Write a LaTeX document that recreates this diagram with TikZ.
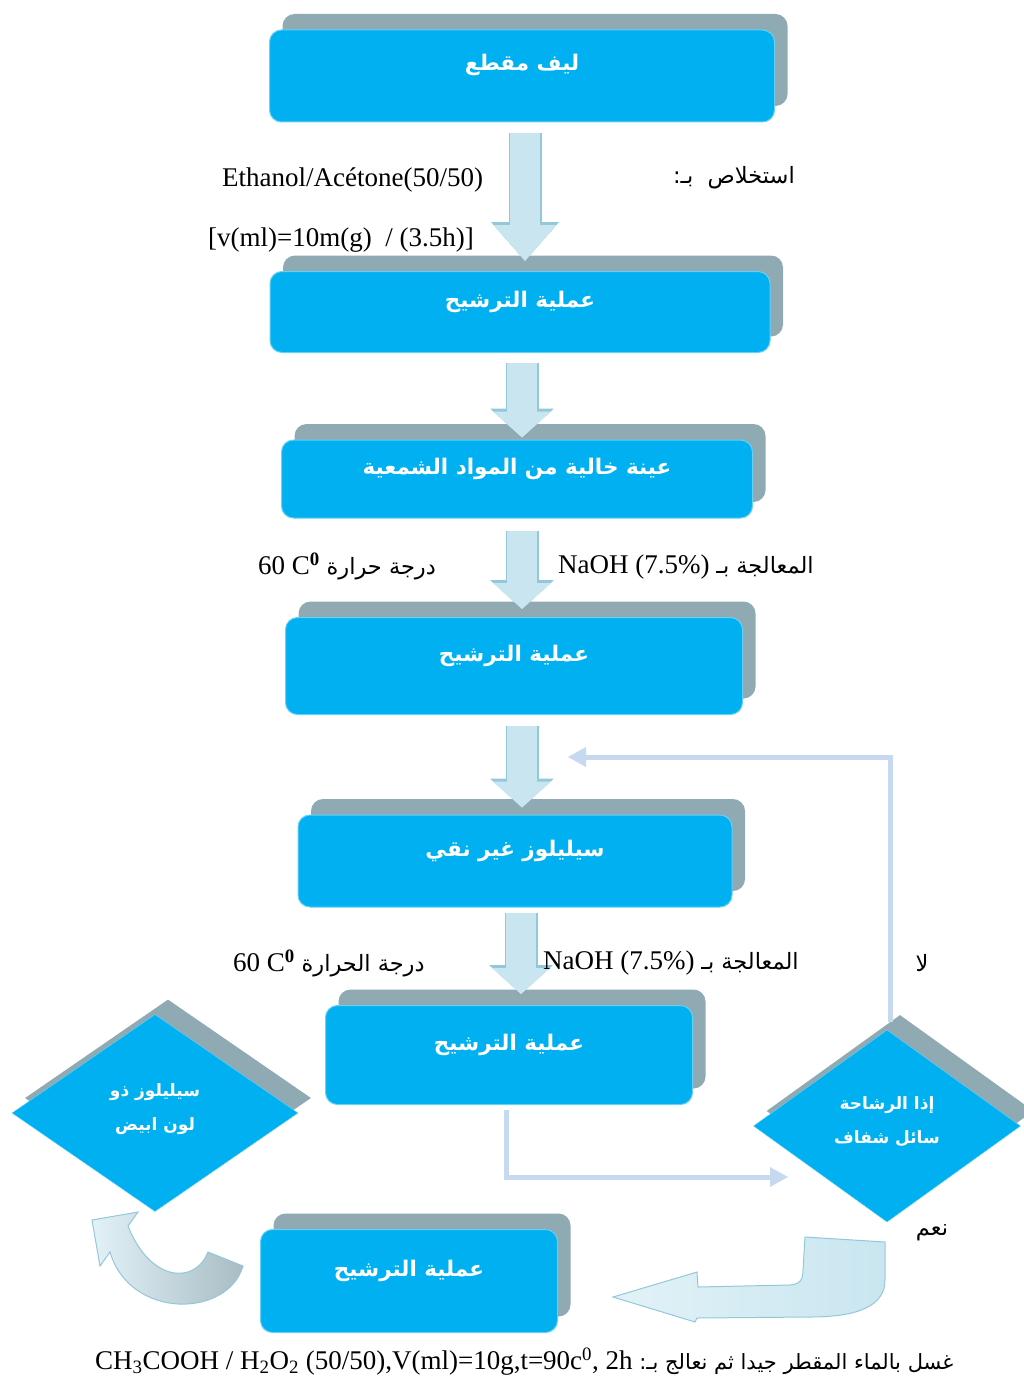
\documentclass[tikz,border=0pt]{standalone}
\usepackage{fontspec}
\setmainfont{Liberation Serif}
\newfontfamily\arabicfont[Script=Arabic]{DejaVu Sans}
\TeXXeTstate=1
\usetikzlibrary{arrows.meta,shapes.geometric,shadows}
\definecolor{boxblue}{HTML}{00B0F0}
\definecolor{boxshade}{HTML}{8FAAB2}
\definecolor{loopblue}{HTML}{C6D9F1}
\definecolor{arrowfill}{HTML}{C9E6F0}
\definecolor{arrowedge}{HTML}{93C8DA}
\definecolor{arrowlight}{HTML}{E2F2F7}
\definecolor{arrowgray}{HTML}{A9BCC4}
\newcommand\arsize{\arabicfont\fontsize{22.5}{26}\selectfont}

\begin{document}
\begin{tikzpicture}[x=1pt,y=-1pt,
  stepbox/.style={rectangle,rounded corners=12pt,fill=boxblue,draw=boxblue!60!white,line width=1pt,
    text=white,font=\arabicfont\bfseries\fontsize{21.5}{26}\selectfont,text height=22pt,text depth=32pt,
    drop shadow={shadow xshift=13pt,shadow yshift=16pt,fill=boxshade,opacity=1}},
  choice/.style={diamond,fill=boxblue,draw=boxblue!60!white,inner sep=0pt,text=white,align=center,
    font=\arabicfont\bfseries\fontsize{17}{34}\selectfont,text depth=12pt,
    drop shadow={shadow xshift=13pt,shadow yshift=15pt,fill=boxshade,opacity=1}},
  flowarrow/.style={line width=30pt,draw=arrowfill,-{Triangle[width=58pt,length=26pt,line width=0pt]},
    preaction={draw=arrowedge,line width=33pt,-{Triangle[width=64pt,length=29pt,line width=0pt]}}},
  bigflow/.style={line width=30pt,draw=arrowfill,-{Triangle[width=62pt,length=36pt,line width=0pt]},
    preaction={draw=arrowedge,line width=33pt,-{Triangle[width=68pt,length=39pt,line width=0pt]}}},
  loopline/.style={draw=loopblue,line width=5pt,-{Triangle[width=20pt,length=18pt,line width=0pt]}},
  latin/.style={font=\fontsize{27}{30}\selectfont,inner sep=0pt},
  arab/.style={font=\arsize,inner sep=0pt}]

  \useasboundingbox (0,0) rectangle (1023,1378);

  \node[stepbox,minimum width=505pt,minimum height=92pt] (1) at (522,76) {\beginR ليف مقطع\endR};
  \node[stepbox,minimum width=500pt,minimum height=81pt] (2) at (520,312) {\beginR عملية الترشيح\endR};
  \node[stepbox,minimum width=471pt,minimum height=78pt] (3) at (517,479) {\beginR عينة خالية من المواد الشمعية\endR};
  \node[stepbox,minimum width=457pt,minimum height=97pt] (4) at (514,666) {\beginR عملية الترشيح\endR};
  \node[stepbox,minimum width=434pt,minimum height=92pt] (5) at (515,861) {\beginR سيليلوز غير نقي\endR};
  \node[stepbox,minimum width=367pt,minimum height=99pt] (6) at (509,1055) {\beginR عملية الترشيح\endR};
  \node[stepbox,minimum width=297pt,minimum height=103pt] (7) at (409,1281) {\beginR عملية الترشيح\endR};

  \node[choice,minimum width=286pt,minimum height=197pt] (8) at (155,1113)
    {\beginR سيليلوز ذو\endR\\\beginR لون ابيض\endR};
  \node[choice,minimum width=267pt,minimum height=192pt] (9) at (887,1126)
    {\beginR إذا الرشاحة\endR\\\beginR سائل شفاف\endR};

  \draw[bigflow] ([shift={(3,11)}]1.south) -- ([shift={(5,-10)}]2.north);
  \draw[flowarrow] ([shift={(2,10)}]2.south) -- ([shift={(5,-2)}]3.north);
  \draw[flowarrow] ([shift={(5,12)}]3.south) -- ([shift={(8,-8)}]4.north);
  \draw[flowarrow] ([shift={(8,11)}]4.south) -- ([shift={(7,-7)}]5.north);
  \draw[flowarrow] ([shift={(6,5)}]5.south) -- ([shift={(12,-11)}]6.north);

  \coordinate (back) at (568,757);
  \coordinate (test) at (788,1177);
  \draw[loopline] ([shift={(3,-8)}]9.north) |- (back);
  \draw[loopline] ([shift={(-3,5)}]6.south) |- (test);

  \shade[left color=arrowlight,right color=arrowfill,draw=arrowedge,line width=1pt]
    (805,1237) -- (885,1242) -- (885,1280) .. controls (885,1305) and (860,1317) .. (810,1317)
    -- (697,1318) -- (695,1322) -- (613,1297) -- (697,1272) -- (698,1287) -- (790,1285)
    .. controls (800,1284) and (803,1280) .. (803,1270) -- cycle;
  \shade[left color=arrowlight,right color=arrowgray,draw=arrowedge,line width=1pt]
    (92,1220) -- (138,1212) -- (128,1226) .. controls (150,1282) and (195,1285) .. (208,1252)
    -- (243,1266) .. controls (228,1318) and (130,1320) .. (110,1252) -- (100,1266) -- cycle;

  \node[latin,anchor=west] (e1) at (222,180) {Ethanol/Acétone(50/50)};
  \node[latin,anchor=west] (e2) at (208,240) {[v(ml)=10m(g)\ \ / (3.5h)]};
  \node[arab,anchor=east] (e3) at (795,178) {\beginR استخلاص\ \ بـ:\endR};
  \node[latin,anchor=west] (t1) at (258,566) {60 C\textsuperscript{\textbf{0}} {\arsize\beginR درجة حرارة\endR}};
  \node[latin,anchor=west] (n1) at (558,567) {NaOH (7.5\%) {\arsize\beginR المعالجة بـ\endR}};
  \node[latin,anchor=west] (t2) at (233,963) {60 C\textsuperscript{\textbf{0}} {\arsize\beginR درجة الحرارة\endR}};
  \node[latin,anchor=west] (n2) at (543,963) {NaOH (7.5\%) {\arsize\beginR المعالجة بـ\endR}};
  \node[arab] (no) at (922,963) {\beginR لا\endR};
  \node[arab] (yes) at (932,1233) {\beginR نعم\endR};
  \node[latin,anchor=west] (w) at (95,1362) {CH\textsubscript{3}COOH / H\textsubscript{2}O\textsubscript{2} (50/50),V(ml)=10g,t=90c\textsuperscript{0}, 2h {\arabicfont\fontsize{21}{24}\selectfont\beginR غسل بالماء المقطر جيدا ثم نعالج بـ:\endR}};
\end{tikzpicture}
\end{document}
